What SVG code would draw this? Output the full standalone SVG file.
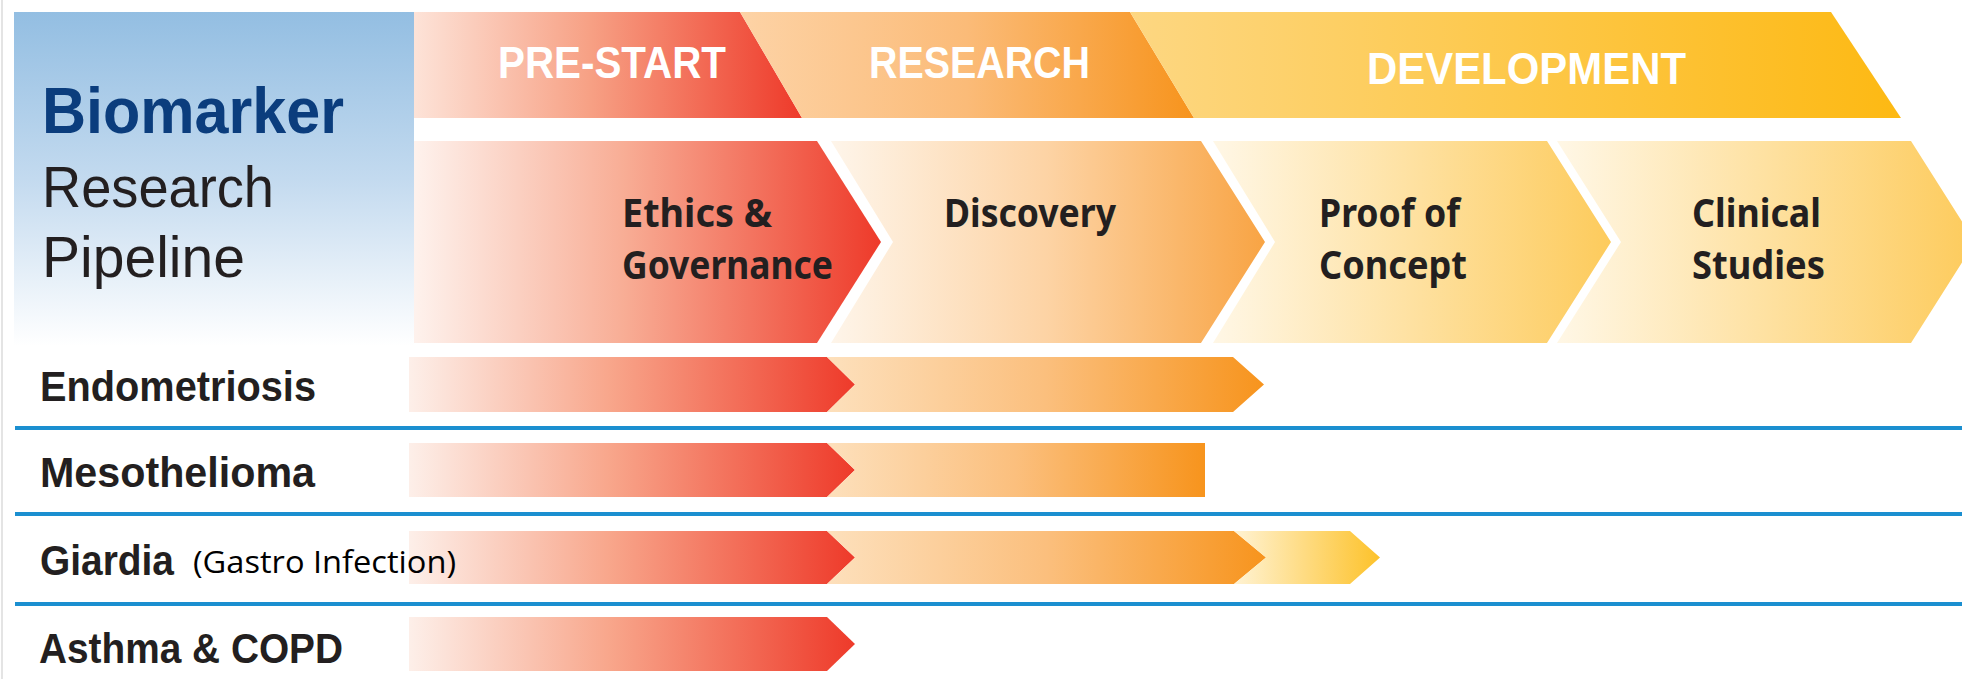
<svg xmlns="http://www.w3.org/2000/svg" width="1962" height="679" viewBox="0 0 1962 679">
<style>
.hd{font-family:"Liberation Sans",Arial,sans-serif;}
.ph{font-family:"Liberation Sans",Arial,sans-serif;font-weight:700;fill:#ffffff;font-size:44px;}
.st{font-family:"Noto Sans","Open Sans",sans-serif;font-weight:700;fill:#231f20;font-size:40px;}
.rl{font-family:"Liberation Sans",Arial,sans-serif;font-weight:700;fill:#231f20;font-size:43px;}
.sep{stroke:#1b8fd0;stroke-width:4;fill:none;}
</style>
<defs>
<linearGradient id="gPanel" x1="0" y1="0" x2="0" y2="1">
<stop offset="0" stop-color="#93bee2"/><stop offset="0.5" stop-color="#c3daef"/><stop offset="1" stop-color="#ffffff"/>
</linearGradient>
<linearGradient id="gRed" x1="0" y1="0" x2="1" y2="0">
<stop offset="0" stop-color="#fde3d8"/><stop offset="0.45" stop-color="#f7a185"/><stop offset="1" stop-color="#ee3a2a"/>
</linearGradient>
<linearGradient id="gRedC" x1="0" y1="0" x2="1" y2="0">
<stop offset="0" stop-color="#fef2ed"/><stop offset="0.45" stop-color="#f8ad95"/><stop offset="1" stop-color="#ee3a2a"/>
</linearGradient>
<linearGradient id="gOrT" x1="0" y1="0" x2="1" y2="0">
<stop offset="0" stop-color="#fdd3a6"/><stop offset="0.5" stop-color="#fbbb78"/><stop offset="1" stop-color="#f7941d"/>
</linearGradient>
<linearGradient id="gOrC" x1="0" y1="0" x2="1" y2="0">
<stop offset="0" stop-color="#fef5ea"/><stop offset="0.5" stop-color="#fdd3a4"/><stop offset="1" stop-color="#f8a444"/>
</linearGradient>
<linearGradient id="gYeT" x1="0" y1="0" x2="1" y2="0">
<stop offset="0" stop-color="#fdd782"/><stop offset="1" stop-color="#fdb913"/>
</linearGradient>
<linearGradient id="gYeC" x1="0" y1="0" x2="1" y2="0">
<stop offset="0" stop-color="#fff7e6"/><stop offset="1" stop-color="#fdcb5c"/>
</linearGradient>
<linearGradient id="gRedB" x1="0" y1="0" x2="1" y2="0">
<stop offset="0" stop-color="#fdefe9"/><stop offset="0.45" stop-color="#f8a68b"/><stop offset="1" stop-color="#ee3a2a"/>
</linearGradient>
<linearGradient id="gOrB" x1="0" y1="0" x2="1" y2="0">
<stop offset="0" stop-color="#fde0bc"/><stop offset="0.5" stop-color="#fbbf7d"/><stop offset="1" stop-color="#f7941d"/>
</linearGradient>
<linearGradient id="gYeB" x1="0" y1="0" x2="1" y2="0">
<stop offset="0" stop-color="#fff3d4"/><stop offset="1" stop-color="#fdc22a"/>
</linearGradient>
</defs>
<rect width="1962" height="679" fill="#ffffff"/>
<line x1="2" y1="0" x2="2" y2="679" stroke="#e4e4e4" stroke-width="2"/>

<g id="title">
<rect x="14" y="12" width="400" height="334" fill="url(#gPanel)"/>
<text class="hd" x="42" y="133" font-size="64" font-weight="700" fill="#0b3d7d" textLength="302" lengthAdjust="spacingAndGlyphs">Biomarker</text>
<text class="hd" x="42" y="207" font-size="58" fill="#231f20" textLength="232" lengthAdjust="spacingAndGlyphs">Research</text>
<text class="hd" x="42" y="277" font-size="58" fill="#231f20" textLength="203" lengthAdjust="spacingAndGlyphs">Pipeline</text>
</g>

<g id="phase-prestart">
<path d="M414,12 L740,12 L802,118 L414,118 Z" fill="url(#gRed)"/>
<text class="ph" x="498" y="78" textLength="228" lengthAdjust="spacingAndGlyphs">PRE-START</text>
</g>
<g id="phase-research">
<path d="M740,12 L1130,12 L1194,118 L802,118 Z" fill="url(#gOrT)"/>
<text class="ph" x="869" y="78" textLength="221" lengthAdjust="spacingAndGlyphs">RESEARCH</text>
</g>
<g id="phase-development">
<path d="M1130,12 L1831,12 L1901,118 L1194,118 Z" fill="url(#gYeT)"/>
<text class="ph" x="1367" y="84" font-size="47" textLength="319" lengthAdjust="spacingAndGlyphs">DEVELOPMENT</text>
</g>

<g id="stage-ethics">
<path d="M414,141 L817,141 L881,242 L817,343 L414,343 Z" fill="url(#gRedC)"/>
<text class="st" x="622" y="227" textLength="150" lengthAdjust="spacingAndGlyphs">Ethics &amp;</text>
<text class="st" x="622" y="279" textLength="211" lengthAdjust="spacingAndGlyphs">Governance</text>
</g>
<g id="stage-discovery">
<path d="M831,141 L1201,141 L1265,242 L1201,343 L831,343 L893,242 Z" fill="url(#gOrC)"/>
<text class="st" x="944" y="227" textLength="172" lengthAdjust="spacingAndGlyphs">Discovery</text>
</g>
<g id="stage-proof">
<path d="M1213,141 L1547,141 L1611,242 L1547,343 L1213,343 L1275,242 Z" fill="url(#gYeC)"/>
<text class="st" x="1319" y="227" textLength="141" lengthAdjust="spacingAndGlyphs">Proof of</text>
<text class="st" x="1319" y="279" textLength="148" lengthAdjust="spacingAndGlyphs">Concept</text>
</g>
<g id="stage-clinical">
<path d="M1557,141 L1911,141 L1975,242 L1911,343 L1557,343 L1621,242 Z" fill="url(#gYeC)"/>
<text class="st" x="1692" y="227" textLength="129" lengthAdjust="spacingAndGlyphs">Clinical</text>
<text class="st" x="1692" y="279" textLength="133" lengthAdjust="spacingAndGlyphs">Studies</text>
</g>

<g id="connectors">
<line class="sep" x1="15" y1="428" x2="1962" y2="428"/>
<line class="sep" x1="15" y1="514" x2="1962" y2="514"/>
<line class="sep" x1="15" y1="604" x2="1962" y2="604"/>
</g>

<g id="row-endometriosis">
<path d="M409,357 L827,357 L855,384.5 L827,412 L409,412 Z" fill="url(#gRedB)"/>
<path d="M827,357 L1233,357 L1264,384.5 L1233,412 L827,412 L855,384.5 Z" fill="url(#gOrB)"/>
<text class="rl" x="40" y="401" textLength="276" lengthAdjust="spacingAndGlyphs">Endometriosis</text>
</g>
<g id="row-mesothelioma">
<path d="M409,443 L827,443 L855,470 L827,497 L409,497 Z" fill="url(#gRedB)"/>
<path d="M827,443 L1205,443 L1205,497 L827,497 L855,470 Z" fill="url(#gOrB)"/>
<text class="rl" x="40" y="487" textLength="275" lengthAdjust="spacingAndGlyphs">Mesothelioma</text>
</g>
<g id="row-giardia">
<path d="M409,531 L827,531 L855,557.5 L827,584 L409,584 Z" fill="url(#gRedB)"/>
<path d="M827,531 L1234,531 L1266,557.5 L1234,584 L827,584 L855,557.5 Z" fill="url(#gOrB)"/>
<path d="M1234,531 L1350,531 L1380,557.5 L1350,584 L1234,584 L1266,557.5 Z" fill="url(#gYeB)"/>
<text class="rl" x="40" y="575" textLength="134" lengthAdjust="spacingAndGlyphs">Giardia</text>
<text x="193" y="573" font-family="'Open Sans','Noto Sans',sans-serif" font-size="31" fill="#000000" textLength="263" lengthAdjust="spacingAndGlyphs">(Gastro Infection)</text>
</g>
<g id="row-asthma">
<path d="M409,617 L827,617 L855,644 L827,671 L409,671 Z" fill="url(#gRedB)"/>
<text class="rl" x="39" y="663" textLength="304" lengthAdjust="spacingAndGlyphs">Asthma &amp; COPD</text>
</g>
</svg>
